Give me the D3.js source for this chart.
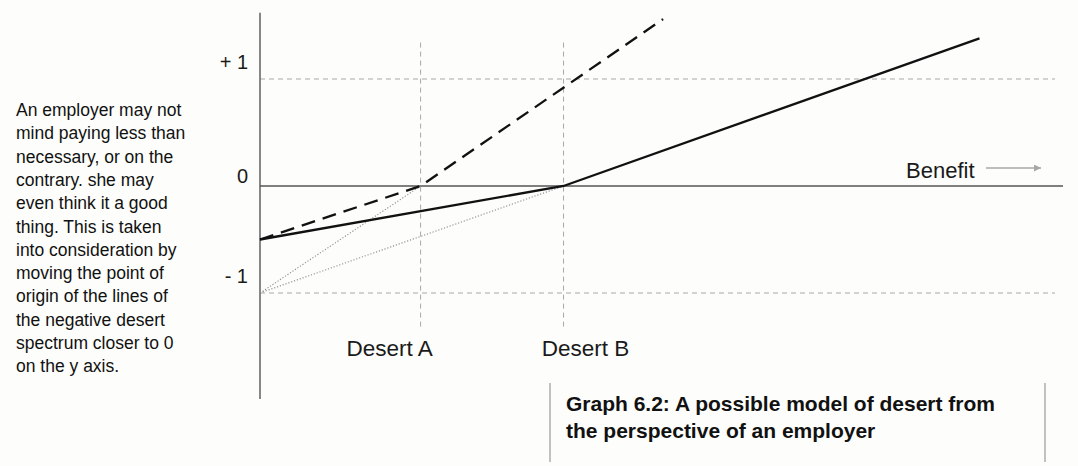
<!DOCTYPE html>
<html>
<head>
<meta charset="utf-8">
<script src="https://cdn.jsdelivr.net/npm/d3@7"></script>
<style>
  html, body { margin: 0; padding: 0; background: #fdfdfb; }
  svg { display: block; font-family: "Liberation Sans", Arial, sans-serif; }
</style>
</head>
<body>
<svg id="chart" width="1078" height="466"></svg>
<script>
// Benefit positions of the two desert levels
const desertNames = ["Desert A", "Desert B"];
const desertBenefit = [1.0, 1.89];

// Y axis reference levels and their labels
const levelValues = [1, 0, -1];
const levelLabels = ["+ 1", "0", "- 1"];

// Lines of desert (benefit, value)
const dashedBenefit = [0, 1.0, 2.51];
const dashedValue = [-0.5, 0, 1.56];
const solidBenefit = [0, 1.89, 4.48];
const solidValue = [-0.5, 0, 1.38];
// Original lines starting at -1
const dottedABenefit = [0, 1.0];
const dottedAValue = [-1, 0];
const dottedBBenefit = [0, 1.89];
const dottedBValue = [-1, 0];

const noteLines = [
  "An employer may not",
  "mind paying less than",
  "necessary, or on the",
  "contrary. she may",
  "even think it a good",
  "thing. This is taken",
  "into consideration by",
  "moving the point of",
  "origin of the lines of",
  "the negative desert",
  "spectrum closer to 0",
  "on the y axis."
];
const captionLines = [
  "Graph 6.2: A possible model of desert from",
  "the perspective of an employer"
];
const axisTitle = "Benefit";

const svg = d3.select("#chart");
const x = d3.scaleLinear().domain([0, 5]).range([260, 1063]);
const y = d3.scaleLinear().domain([-1, 1]).range([293, 79]);

const gridColor = "#a8a8a8";

// horizontal dashed reference lines at +1 and -1
svg.selectAll("line.hgrid")
  .data(levelValues.filter(v => v !== 0))
  .join("line")
  .attr("class", "hgrid")
  .attr("x1", x(0)).attr("x2", x(4.95))
  .attr("y1", d => y(d)).attr("y2", d => y(d))
  .attr("stroke", gridColor).attr("stroke-width", 1)
  .attr("stroke-dasharray", "5,4");

// vertical dashed lines at the desert levels
svg.selectAll("line.vgrid")
  .data(desertBenefit)
  .join("line")
  .attr("class", "vgrid")
  .attr("x1", d => x(d)).attr("x2", d => x(d))
  .attr("y1", y(1.34)).attr("y2", y(-1.35))
  .attr("stroke", gridColor).attr("stroke-width", 1)
  .attr("stroke-dasharray", "5,4");

// y axis
svg.append("line")
  .attr("x1", x(0)).attr("x2", x(0))
  .attr("y1", y(1.62)).attr("y2", y(-1.99))
  .attr("stroke", "#6a6a6a").attr("stroke-width", 1.6);

// zero line (benefit axis)
svg.append("line")
  .attr("x1", x(0)).attr("x2", x(5))
  .attr("y1", y(0)).attr("y2", y(0))
  .attr("stroke", "#555").attr("stroke-width", 1.6);

const line = d3.line().x(d => x(d[0])).y(d => y(d[1]));
const zip = (a, b) => a.map((v, i) => [v, b[i]]);

// dotted grey lines from -1
[[dottedABenefit, dottedAValue], [dottedBBenefit, dottedBValue]].forEach(([b, v]) => {
  svg.append("path")
    .attr("d", line(zip(b, v)))
    .attr("fill", "none")
    .attr("stroke", "#8c8c8c").attr("stroke-width", 1.1)
    .attr("stroke-dasharray", "1.2,1.8");
});

// heavy dashed line
svg.append("path")
  .attr("d", line(zip(dashedBenefit, dashedValue)))
  .attr("fill", "none")
  .attr("stroke", "#111").attr("stroke-width", 2.3)
  .attr("stroke-dasharray", "14,8");

// heavy solid line
svg.append("path")
  .attr("d", line(zip(solidBenefit, solidValue)))
  .attr("fill", "none")
  .attr("stroke", "#111").attr("stroke-width", 2.3);

// level labels on the y axis
const labelOffset = { "1": 10, "0": 3, "-1": 10 };
svg.selectAll("text.level")
  .data(levelValues)
  .join("text")
  .attr("class", "level")
  .attr("x", x(0) - 12)
  .attr("y", d => y(d) - labelOffset[String(d)])
  .attr("text-anchor", "end")
  .attr("font-size", 20)
  .attr("fill", "#1a1a1a")
  .text((d, i) => levelLabels[i]);

// desert labels, set slightly apart from their grid lines
const desertLabelShift = [-31, 22];
svg.selectAll("text.desert")
  .data(desertBenefit)
  .join("text")
  .attr("class", "desert")
  .attr("x", (d, i) => x(d) + desertLabelShift[i])
  .attr("y", 356)
  .attr("text-anchor", "middle")
  .attr("font-size", 22.5)
  .attr("fill", "#1a1a1a")
  .text((d, i) => desertNames[i]);

// benefit label with arrow
svg.append("defs").append("marker")
  .attr("id", "arrow")
  .attr("viewBox", "0 0 10 10")
  .attr("refX", 10).attr("refY", 5)
  .attr("markerWidth", 8).attr("markerHeight", 7)
  .attr("markerUnits", "userSpaceOnUse")
  .attr("orient", "auto")
  .append("path")
  .attr("d", "M0,0 L10,5 L0,10 Z")
  .attr("fill", "#a8a8a8");
svg.append("text")
  .attr("x", 906).attr("y", 178)
  .attr("font-size", 22)
  .attr("fill", "#1a1a1a")
  .text(axisTitle);
svg.append("line")
  .attr("x1", 986).attr("x2", 1041)
  .attr("y1", 168).attr("y2", 168)
  .attr("stroke", "#a8a8a8").attr("stroke-width", 1.5)
  .attr("marker-end", "url(#arrow)");

// explanatory note on the left
svg.append("g")
  .selectAll("text")
  .data(noteLines)
  .join("text")
  .attr("x", 16)
  .attr("y", (d, i) => 116 + i * 23.3)
  .attr("font-size", 17.5)
  .attr("fill", "#111")
  .text(d => d);

// caption box
svg.selectAll("line.capborder")
  .data([550, 1045])
  .join("line")
  .attr("class", "capborder")
  .attr("x1", d => d).attr("x2", d => d)
  .attr("y1", 383).attr("y2", 462)
  .attr("stroke", "#9a9a9a").attr("stroke-width", 1.2);
svg.append("g")
  .selectAll("text")
  .data(captionLines)
  .join("text")
  .attr("x", 566)
  .attr("y", (d, i) => 411 + i * 27)
  .attr("font-size", 21)
  .attr("font-weight", "bold")
  .attr("fill", "#111")
  .text(d => d);
</script>
</body>
</html>
